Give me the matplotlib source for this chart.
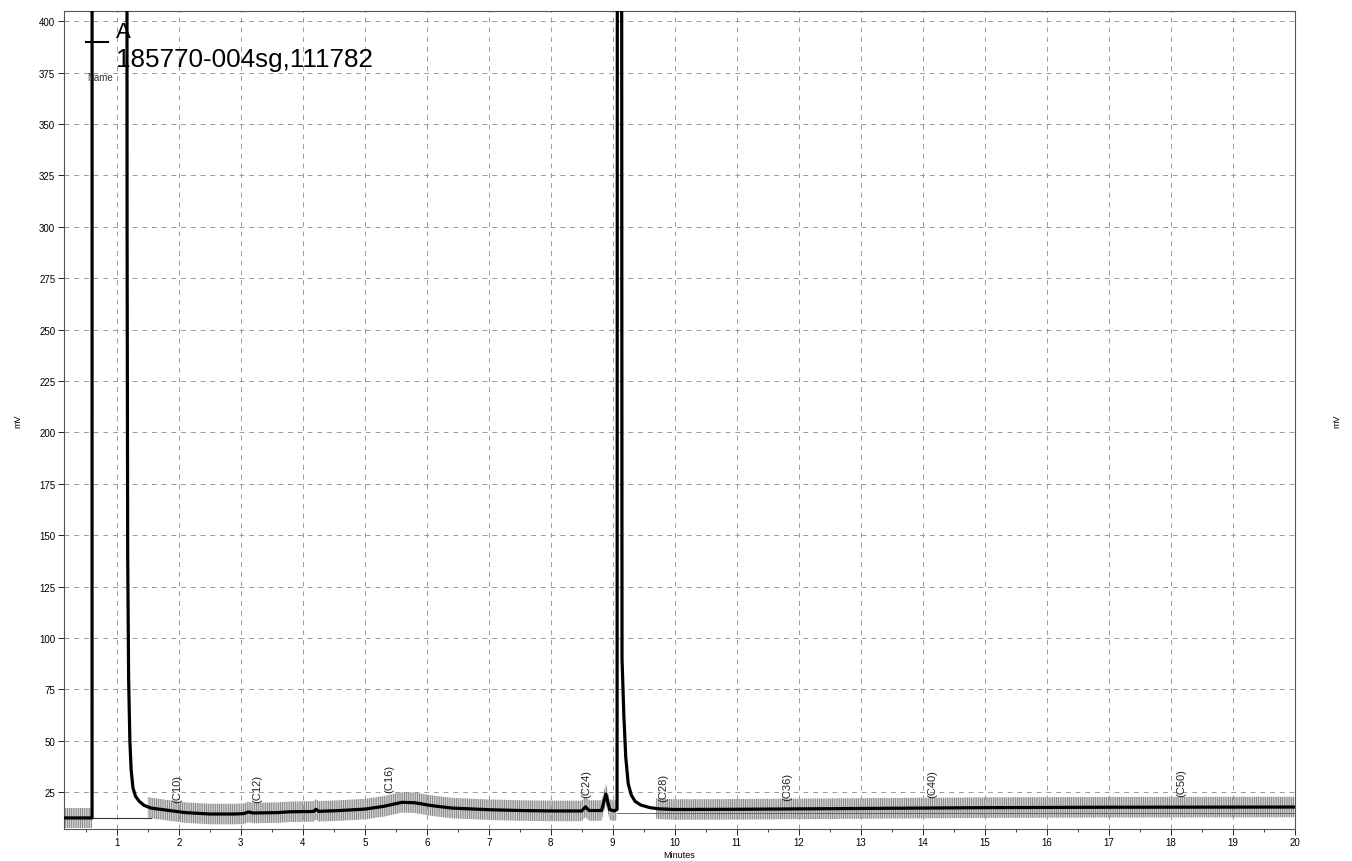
import matplotlib
matplotlib.use("Agg")
import matplotlib.pyplot as plt
import numpy as np

plt.rcParams['font.family'] = ['Liberation Sans', 'DejaVu Sans']
plt.rcParams['hatch.linewidth'] = 0.9

# Chromatogram trace (minutes, mV)
time_min = [0.14, 0.30, 0.45, 0.60, 0.601, 1.155, 1.165, 1.175, 1.19, 1.21, 1.23, 1.26, 1.30,
            1.36, 1.44, 1.55, 1.70, 1.90, 2.10, 2.50, 2.90, 3.05, 3.12, 3.20, 3.60, 3.80,
            4.10, 4.18, 4.21, 4.26, 4.60, 5.00, 5.30, 5.60, 5.80, 6.10, 6.40, 7.00, 7.50,
            8.00, 8.50, 8.56, 8.62, 8.82, 8.89, 8.95, 9.02, 9.07, 9.08, 9.135, 9.15, 9.18,
            9.21, 9.25, 9.30, 9.36, 9.45, 9.60, 9.75, 10.0, 11.0, 13.0, 15.0, 17.0, 20.0]
signal_mv = [12.4, 12.4, 12.4, 12.4, 1000, 1000, 300, 140, 80, 50, 36, 27, 23,
             20.5, 18.5, 17.2, 16.6, 15.8, 15.0, 14.3, 14.3, 14.5, 15.3, 14.8, 15.0, 15.4,
             15.5, 15.6, 16.6, 15.6, 16.0, 16.7, 18.0, 20.0, 19.8, 18.3, 17.2, 16.4, 16.0,
             15.8, 15.8, 17.8, 16.0, 16.0, 24.0, 16.5, 15.8, 16.5, 1000, 1000, 90, 62,
             42, 29, 23.5, 20.5, 18.7, 17.4, 16.8, 16.5, 16.6, 17.0, 17.4, 17.6, 17.7]

# Integration baselines
base1_t = [0.14, 1.55]
base1_mv = [12.4, 12.4]
base2_t = [9.07, 20.0]
base2_mv = [15.0, 15.0]

# Peak labels
peak_names = ["(C10)", "(C12)", "(C16)", "(C24)", "(C28)", "(C36)", "(C40)", "(C50)"]
peak_times = [1.98, 3.26, 5.40, 8.58, 9.81, 11.82, 14.15, 18.18]
label_mv = [20.0, 20.0, 25.0, 22.6, 20.6, 21.0, 22.5, 23.0]

y_ticks = list(range(25, 401, 25))
x_ticks = list(range(1, 21))

fig = plt.figure(figsize=(13.52, 8.62), dpi=100)
ax = fig.add_axes([0.047, 0.0371, 0.9105, 0.9489])
ax.set_xlim(0.14, 20.0)
ax.set_ylim(7, 405)

t = np.array(time_min)
s = np.array(signal_mv)

# gray hatched noise band
for lo, hi in [(0.14, 0.60), (1.50, 9.06), (9.70, 20.0)]:
    m = (t >= lo) & (t <= hi)
    tt = np.concatenate([[lo], t[m], [hi]])
    ss = np.interp(tt, t, s)
    ax.fill_between(tt, ss - 5, ss + 5, facecolor='none', edgecolor='#8c8c8c',
                    hatch='|||||||||', linewidth=0, zorder=1)

ax.plot(base1_t, base1_mv, color='#333333', lw=0.8, zorder=2)
ax.plot(base2_t, base2_mv, color='#555555', lw=0.6, zorder=2)
ax.plot(t, s, color='black', lw=2.3, zorder=3, solid_joinstyle='round')

for name, pt, pm in zip(peak_names, peak_times, label_mv):
    ax.text(pt, pm, name, rotation=90, ha='center', va='bottom', fontsize=8, color='#222222', zorder=4)

ax.set_xticks(x_ticks)
ax.set_xticks(np.arange(0.5, 20.01, 0.5), minor=True)
ax.set_yticks(y_ticks)
ax.grid(True, which='major', color='#9a9a9a', linestyle=(0, (5, 5)), linewidth=0.7)
ax.tick_params(axis='both', which='major', labelsize=7, length=4, width=0.6, pad=2)
ax.tick_params(axis='x', which='minor', length=2, width=0.5)
ax.tick_params(axis='y', which='both', right=True, labelright=True)
for sp in ax.spines.values():
    sp.set_color('#555555')
    sp.set_linewidth(0.8)

ax.set_xlabel("Minutes", fontsize=6.5, labelpad=2)
ax.set_ylabel("mV", fontsize=6.5, labelpad=12)
ax2 = ax.twinx()
ax2.set_ylim(ax.get_ylim())
ax2.set_yticks([])
ax2.set_ylabel("mV", fontsize=6.5, labelpad=27)
for sp in ax2.spines.values():
    sp.set_visible(False)

# legend-like annotations
ax.plot([0.0179, 0.0365], [0.962, 0.962], transform=ax.transAxes, color='black', lw=1.5, clip_on=False)
ax.text(0.019, 0.913, "Name", transform=ax.transAxes, fontsize=7, color='#333333', va='bottom')
ax.text(0.0425, 0.968, "A", transform=ax.transAxes, fontsize=16, va='baseline', ha='left')
ax.text(0.0425, 0.933, "185770-004sg,111782", transform=ax.transAxes, fontsize=18.7, va='baseline', ha='left')

fig.savefig("out.png", dpi=100)
